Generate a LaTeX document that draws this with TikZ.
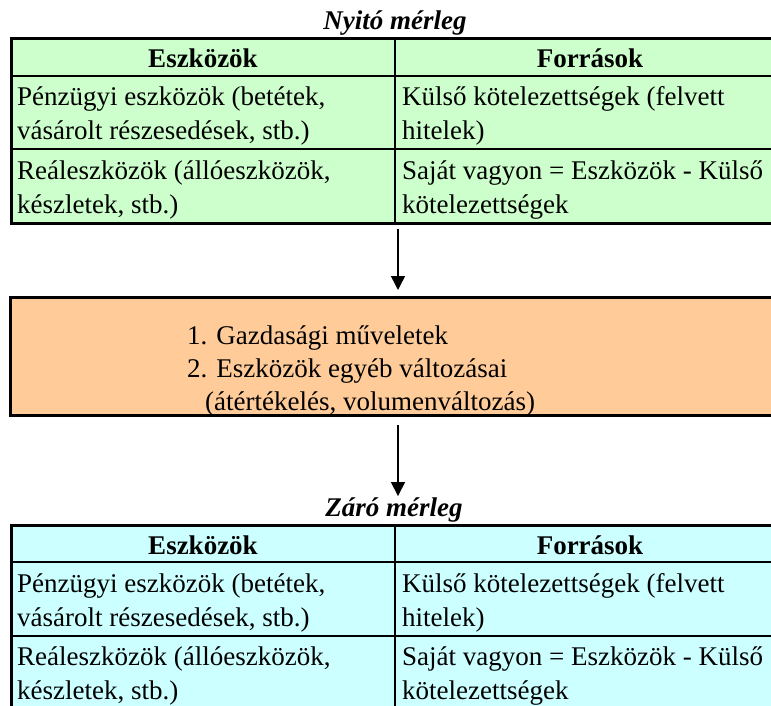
\documentclass[tikz,border=0pt]{standalone}
\usepackage{fontspec}
\setmainfont{Liberation Serif}
\usetikzlibrary{arrows.meta}
\definecolor{zold}{HTML}{CCFFCC}
\definecolor{narancs}{HTML}{FFCC99}
\definecolor{turkiz}{HTML}{CCFFFF}

\begin{document}
\begin{tikzpicture}[x=1pt,y=-1pt,font=\fontsize{27}{34}\selectfont,
  cella/.style={anchor=base west,align=left,inner sep=0pt},
  fejlec/.style={anchor=base,font=\fontsize{27}{34}\selectfont\bfseries,inner sep=0pt},
  cim/.style={anchor=base,font=\fontsize{27}{34}\selectfont\bfseries\itshape,inner sep=0pt},
  nyil/.style={-{Triangle[width=14pt,length=14pt]},line width=1.5pt}]
\clip (0,0) rectangle (771,706);
% nyito merleg
\node[cim] (nyito) at (395,30) {Nyitó mérleg};
\draw[line width=3pt,fill=zold] (11,39) rectangle (785,223);
\draw[line width=2.5pt] (11,76) -- (785,76);
\draw[line width=2.5pt] (11,149) -- (785,149);
\draw[line width=2.5pt] (395,39) -- (395,223);
\node[fejlec] (ny-eszk) at (203,68) {Eszközök};
\node[fejlec] (ny-forr) at (590,68) {Források};
\node[cella] (ny-penz) at (17,140) {Pénzügyi eszközök (betétek,\\vásárolt részesedések, stb.)};
\node[cella] (ny-kulso) at (402,140) {Külső kötelezettségek (felvett\\hitelek)};
\node[cella] (ny-real) at (17,213) {Reáleszközök (állóeszközök,\\készletek, stb.)};
\node[cella] (ny-sajat) at (402,213) {Saját vagyon = Eszközök - Külső\\kötelezettségek};
\coordinate (nyitoalja) at (398,223);
% valtozasok
\node[draw,line width=3pt,fill=narancs,minimum width=776pt,minimum height=118pt,inner sep=0pt] (valtozas) at (398,356) {};
\node[cella,font=\fontsize{27}{33}\selectfont] (gazd) at (187,410) {1. Gazdasági műveletek\\2. Eszközök egyéb változásai\\\hspace*{18pt}(átértékelés, volumenváltozás)};
% zaro merleg
\node[cim] (zaro) at (394,516) {Záró mérleg};
\draw[line width=3pt,fill=turkiz] (11,525) rectangle (785,740);
\draw[line width=2.5pt] (11,562) -- (785,562);
\draw[line width=2.5pt] (11,636) -- (785,636);
\draw[line width=2.5pt] (395,525) -- (395,740);
\node[fejlec] (za-eszk) at (203,554) {Eszközök};
\node[fejlec] (za-forr) at (590,554) {Források};
\node[cella] (za-penz) at (17,626) {Pénzügyi eszközök (betétek,\\vásárolt részesedések, stb.)};
\node[cella] (za-kulso) at (402,626) {Külső kötelezettségek (felvett\\hitelek)};
\node[cella] (za-real) at (17,699) {Reáleszközök (állóeszközök,\\készletek, stb.)};
\node[cella] (za-sajat) at (402,699) {Saját vagyon = Eszközök - Külső\\kötelezettségek};
% nyilak
\draw[nyil,shorten <=6pt,shorten >=5.5pt] (nyitoalja) -- (valtozas.north);
\draw[nyil,shorten <=8.5pt,shorten >=1pt] (valtozas.south) -- (valtozas.south |- zaro.north);
\end{tikzpicture}
\end{document}
